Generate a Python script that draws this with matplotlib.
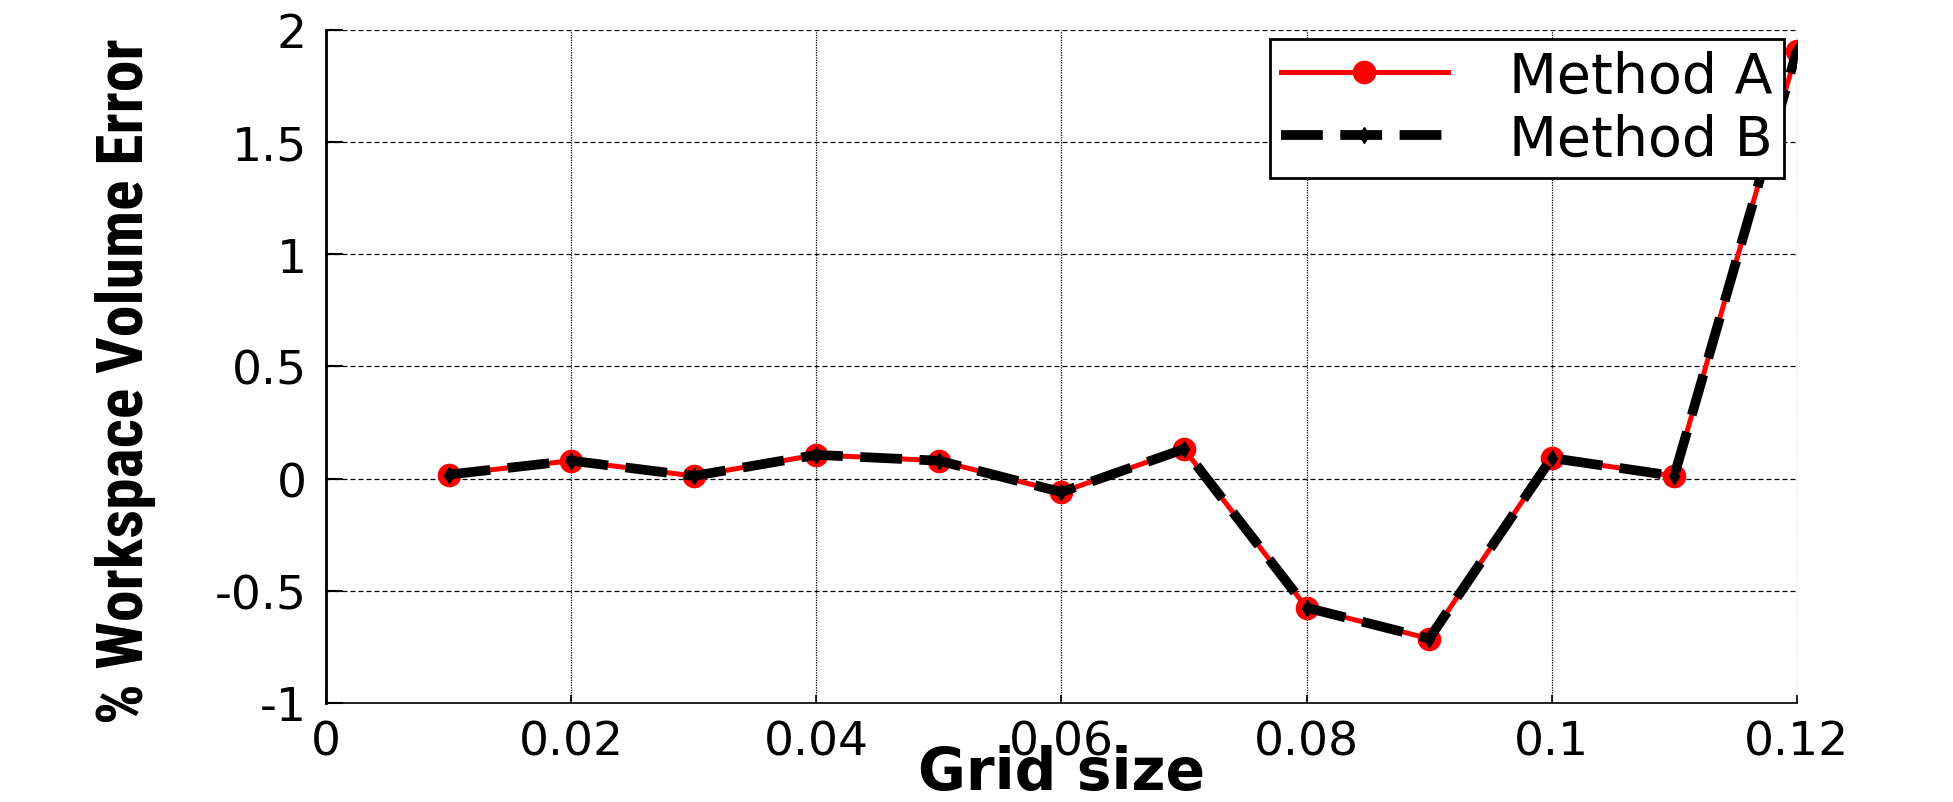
import matplotlib
matplotlib.use("Agg")
import matplotlib.pyplot as plt
from matplotlib import font_manager

# ---- data ----
grid_size = [0.01, 0.02, 0.03, 0.04, 0.05, 0.06, 0.07, 0.08, 0.09, 0.10, 0.11, 0.12]
method_a = [0.018, 0.080, 0.012, 0.106, 0.080, -0.060, 0.132, -0.575, -0.713, 0.092, 0.012, 1.905]
method_b = [0.018, 0.080, 0.012, 0.106, 0.080, -0.060, 0.132, -0.575, -0.713, 0.092, 0.012, 1.905]
x_ticks = [0, 0.02, 0.04, 0.06, 0.08, 0.10, 0.12]
x_tick_labels = ["0", "0.02", "0.04", "0.06", "0.08", "0.1", "0.12"]
y_ticks = [-1, -0.5, 0, 0.5, 1, 1.5, 2]
y_tick_labels = ["-1", "-0.5", "0", "0.5", "1", "1.5", "2"]
series_labels = ["Method A", "Method B"]
x_label = "Grid size"
y_label = "% Workspace Volume Error"

names = {f.name for f in font_manager.fontManager.ttflist}
ylab_family = "Liberation Sans"
for cand in ["Liberation Sans Narrow", "Arial Narrow", "Roboto Condensed",
             "Open Sans Condensed", "Noto Sans Condensed"]:
    if cand in names:
        ylab_family = cand
        break

fig = plt.figure(figsize=(19.53, 8.03), dpi=100)
ax = fig.add_axes([0.167, 0.1233, 0.753, 0.8381])

ax.plot(grid_size, method_a, color="red", lw=3.6, marker="o", markersize=16,
        markerfacecolor="red", markeredgecolor="red", label=series_labels[0], zorder=3)
ax.plot(grid_size, method_b, color="black", lw=7, linestyle=(0, (4.3, 1.8)),
        dash_capstyle="butt", marker="d", markersize=8, markerfacecolor="black",
        markeredgecolor="black", label=series_labels[1], zorder=4)

ax.set_xlim(0, 0.12)
ax.set_ylim(-1, 2)
ax.set_xticks(x_ticks)
ax.set_xticklabels(x_tick_labels)
ax.set_yticks(y_ticks)
ax.set_yticklabels(y_tick_labels)

for lab in ax.get_xticklabels() + ax.get_yticklabels():
    lab.set_fontfamily("DejaVu Sans")
    lab.set_fontsize(34)

ax.tick_params(axis="both", direction="in", colors="black")
ax.tick_params(axis="x", pad=12, length=6, width=1.2)
ax.tick_params(axis="y", pad=14, length=12, width=1.5)

ax.grid(True, axis="x", color="black", linestyle=(0, (1.0, 1.0)), linewidth=0.9)
ax.grid(True, axis="y", color="black", linestyle=(0, (4.0, 2.4)), linewidth=0.9)
ax.set_axisbelow(True)
for s in ["top", "right"]:
    ax.spines[s].set_visible(False)
ax.spines["left"].set_linewidth(2.0)
ax.spines["bottom"].set_linewidth(1.2)
for s in ["left", "bottom"]:
    ax.spines[s].set_color("black")

ax.set_xlabel(x_label, fontsize=42, fontweight="bold", family="DejaVu Sans")
ax.xaxis.set_label_coords(0.5, -0.1278)
ax.xaxis.label.set_va("baseline")

ylab = ax.set_ylabel(y_label, fontsize=40, fontweight="bold", family=ylab_family)
ax.yaxis.set_label_coords(-0.1366, 0.48)
ylab.set_va("center")
ylab.set_ha("center")

# scale y label so its length matches the reference (~685 px)
fig.canvas.draw()
ext = ylab.get_window_extent()
ylab.set_fontsize(40 * 685.0 / ext.height)

leg = ax.legend(loc="upper right", bbox_to_anchor=(0.991, 0.987), borderaxespad=0,
                fancybox=False, framealpha=1, edgecolor="black",
                prop={"family": "DejaVu Sans", "size": 40},
                handlelength=3.0, handletextpad=1.1, borderpad=0.2,
                labelspacing=0.16)
leg.get_frame().set_linewidth(2.0)

fig.savefig("out.png", dpi=100)
